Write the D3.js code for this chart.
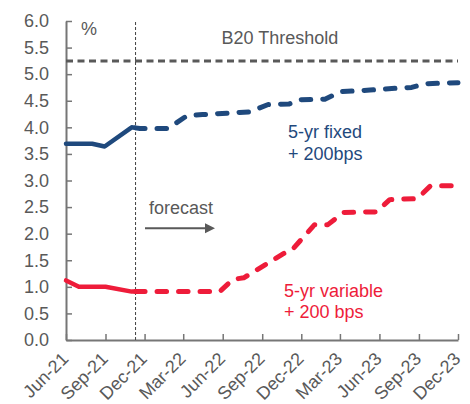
<!DOCTYPE html>
<html>
<head>
<meta charset="utf-8">
<script src="https://cdn.jsdelivr.net/npm/d3@7/dist/d3.min.js"></script>
<style>
  html, body { margin: 0; padding: 0; background: #fff; }
  svg { display: block; font-family: "Liberation Sans", Arial, sans-serif; }
</style>
</head>
<body>
<svg id="chart" width="470" height="404"></svg>
<script>
// Quarterly axis labels
const tickLabels = ["Jun-21","Sep-21","Dec-21","Mar-22","Jun-22","Sep-22","Dec-22",
                    "Mar-23","Jun-23","Sep-23","Dec-23"];

// 5-yr fixed mortgage rate + 200bps (%)
const fixedDates = ["2021-06-01","2021-08-01","2021-08-30","2021-11-01","2021-11-10",
  "2021-11-20","2022-01-25","2022-03-10","2022-04-15","2022-07-10","2022-08-03",
  "2022-09-15","2022-11-03","2022-11-28","2023-01-25","2023-03-03","2023-05-10",
  "2023-07-18","2023-08-15","2023-09-15","2023-12-01"];
const fixedRates = [3.69,3.69,3.64,4.00,3.99,3.98,3.98,4.22,4.24,4.28,4.29,
  4.43,4.44,4.52,4.53,4.67,4.70,4.74,4.75,4.82,4.84];

// 5-yr variable mortgage rate + 200 bps (%)
const variableDates = ["2021-06-01","2021-07-01","2021-09-01","2021-11-01","2021-11-10",
  "2022-05-25","2022-06-25","2022-07-20","2022-11-01","2022-11-10","2023-01-01",
  "2023-02-01","2023-03-10","2023-05-25","2023-06-25","2023-08-28","2023-09-28","2023-12-01"];
const variableRates = [1.12,1.00,1.00,0.91,0.91,0.91,1.14,1.17,1.68,1.70,2.17,
  2.17,2.40,2.41,2.64,2.66,2.90,2.90];

const forecastStart = "2021-11-10";
const thresholdRate = 5.25;
const yTicks = [0,0.5,1,1.5,2,2.5,3,3.5,4,4.5,5,5.5,6];

const parseDay = d3.timeParse("%Y-%m-%d");
const parseMonth = d3.timeParse("%b-%y");
const startDate = parseDay(forecastStart);

const gray = "#595959";
const blue = "#1F497D";
const red = "#EE1C3A";

const svg = d3.select("#chart");

const x = d3.scaleTime()
  .domain([parseMonth(tickLabels[0]), parseMonth(tickLabels[tickLabels.length - 1])])
  .range([66, 458]);
const y = d3.scaleLinear().domain([0, 6]).range([340, 21]);

function series(dates, rates) {
  return dates.map((d, i) => ({ date: parseDay(d), v: rates[i] }));
}
const fixed = series(fixedDates, fixedRates);
const variable = series(variableDates, variableRates);

const line = d3.line().x(d => x(d.date)).y(d => y(d.v));

// Y axis (ticks point inward)
const yAxis = svg.append("g")
  .attr("transform", "translate(66,0)")
  .call(d3.axisLeft(y).tickValues(yTicks).tickFormat(d3.format(".1f"))
    .tickSize(-6).tickSizeOuter(0).tickPadding(17));
yAxis.select(".domain").attr("stroke", "#767676").attr("stroke-width", 2);
yAxis.selectAll(".tick line").attr("stroke", "#767676").attr("stroke-width", 1.5);
yAxis.selectAll(".tick text").attr("fill", gray).style("font-size", "18px")
  .style("font-family", "'Liberation Sans', Arial, sans-serif");

// X axis with rotated quarterly labels
const xAxis = svg.append("g")
  .attr("transform", "translate(0,340)")
  .call(d3.axisBottom(x).tickValues(tickLabels.map(parseMonth))
    .tickFormat(d3.timeFormat("%b-%y")).tickSize(-6).tickSizeOuter(0));
xAxis.select(".domain").attr("stroke", "#767676").attr("stroke-width", 2);
xAxis.selectAll(".tick line").attr("stroke", "#767676").attr("stroke-width", 1.5);
xAxis.selectAll(".tick text")
  .attr("fill", gray).style("font-size", "18px")
  .style("font-family", "'Liberation Sans', Arial, sans-serif")
  .attr("text-anchor", "end")
  .attr("x", 0).attr("y", 0).attr("dy", 0)
  .attr("transform", "translate(3,20) rotate(-45)");

// B20 threshold
svg.append("line")
  .attr("x1", x.range()[0]).attr("x2", x.range()[1])
  .attr("y1", y(thresholdRate)).attr("y2", y(thresholdRate))
  .attr("stroke", gray).attr("stroke-width", 3)
  .attr("stroke-dasharray", "7,4.5");

// Forecast divider
svg.append("line")
  .attr("x1", x(startDate)).attr("x2", x(startDate))
  .attr("y1", 22).attr("y2", 340)
  .attr("stroke", "#404040").attr("stroke-width", 1)
  .attr("stroke-dasharray", "3,2");

function drawSeries(data, color) {
  svg.append("path")
    .datum(data.filter(d => d.date <= startDate))
    .attr("d", line).attr("fill", "none")
    .attr("stroke", color).attr("stroke-width", 4.5)
    .attr("stroke-linejoin", "round").attr("stroke-linecap", "round");
  svg.append("path")
    .datum(data.filter(d => d.date >= startDate))
    .attr("d", line).attr("fill", "none")
    .attr("stroke", color).attr("stroke-width", 5)
    .attr("stroke-linejoin", "round").attr("stroke-linecap", "round")
    .attr("stroke-dasharray", "9.5,12");
}
drawSeries(fixed, blue);
drawSeries(variable, red);

// Text annotations
function label(txt, px, py, color) {
  svg.append("text").attr("x", px).attr("y", py)
    .attr("fill", color).style("font-size", "18px").text(txt);
}
label("%", 81, 34.5, gray);
label("B20 Threshold", 221.5, 44, gray);
label("forecast", 149, 214, gray);
label("5-yr fixed", 288, 138, blue);
label("+ 200bps", 288, 159.5, blue);
label("5-yr variable", 284, 297, red);
label("+ 200 bps", 284, 317.5, red);

// Forecast arrow
svg.append("line").attr("x1", 145).attr("x2", 206).attr("y1", 228.3).attr("y2", 228.3)
  .attr("stroke", gray).attr("stroke-width", 2);
svg.append("path").attr("d", "M205,223.3 L215,228.3 L205,233.3 Z").attr("fill", gray);
</script>
</body>
</html>
